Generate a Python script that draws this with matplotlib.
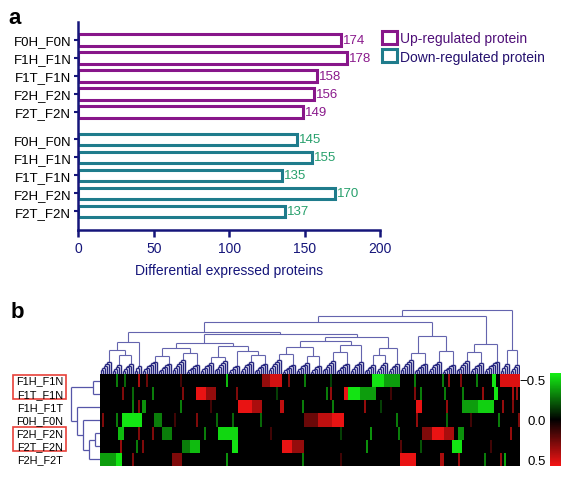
import numpy as np
import matplotlib
matplotlib.use("Agg")
import matplotlib.pyplot as plt
from matplotlib.colors import LinearSegmentedColormap, Normalize
from matplotlib.cm import ScalarMappable
from matplotlib.collections import LineCollection
from matplotlib.patches import Patch, Rectangle

plt.rcParams["font.family"] = ["Liberation Sans", "DejaVu Sans"]

# ---------------- panel a: counts of differential proteins ----------------
COMPARISONS = ["F0H_F0N", "F1H_F1N", "F1T_F1N", "F2H_F2N", "F2T_F2N"]
UP_COUNTS = [174, 178, 158, 156, 149]
DOWN_COUNTS = [145, 155, 135, 170, 137]
LEGEND_LABELS = ["Up-regulated protein", "Down-regulated protein"]

# ---------------- panel b: clustered heatmap ----------------
HEAT_ROWS = ["F1H_F1N", "F1T_F1N", "F1H_F1T", "F0H_F0N",
             "F2H_F2N", "F2T_F2N", "F2H_F2T"]
BOXED_ROW_PAIRS = [(0, 1), (4, 5)]
N_PROTEINS = 210

# (first column, stop column, log ratio); everything not listed is ~0
ROW_F1H_F1N = [(8, 9, -0.3), (12, 13, -0.25), (19, 20, 0.4), (23, 24, 0.25),
               (63, 64, -0.45), (81, 85, 0.35), (85, 91, 0.5), (94, 95, 0.3),
               (102, 103, -0.3), (136, 142, -0.55), (142, 150, -0.38),
               (157, 158, -0.3), (171, 172, -0.3), (174, 175, 0.35),
               (180, 181, 0.3), (188, 189, -0.3), (196, 198, -0.55),
               (200, 210, 0.52), (40, 41, 0.15), (115, 116, -0.15)]
ROW_F1T_F1N = [(11, 12, 0.3), (16, 17, -0.25), (26, 27, -0.3), (41, 42, 0.3),
               (48, 53, 0.55), (53, 58, 0.35), (68, 69, 0.3), (113, 114, -0.3),
               (115, 116, 0.35), (122, 124, 0.55), (124, 130, -0.55),
               (130, 138, -0.38), (157, 158, 0.3), (160, 161, -0.3),
               (172, 173, -0.3), (181, 182, -0.3), (191, 192, 0.35),
               (197, 199, -0.55), (206, 207, 0.4), (208, 209, 0.35),
               (88, 89, -0.15), (145, 146, 0.15)]
ROW_F1H_F1T = [(16, 17, -0.3), (19, 20, 0.3), (21, 23, -0.35), (40, 41, -0.3),
               (69, 76, 0.55), (76, 81, 0.4), (90, 92, 0.45), (101, 102, -0.3),
               (116, 117, -0.3), (132, 133, 0.35), (158, 161, 0.55),
               (173, 174, 0.35), (181, 189, -0.38), (189, 197, -0.5),
               (201, 202, 0.35), (206, 207, 0.3), (55, 56, 0.15), (140, 141, -0.15)]
ROW_F0H_F0N = [(1, 2, 0.3), (8, 9, -0.3), (11, 21, -0.55), (27, 31, -0.3),
               (48, 49, 0.3), (58, 59, -0.25), (66, 67, -0.25), (80, 81, -0.25),
               (102, 109, 0.25), (109, 116, 0.45), (116, 122, 0.55),
               (148, 149, -0.3), (158, 159, 0.35), (173, 174, -0.25),
               (199, 200, -0.3), (209, 210, 0.3), (37, 38, 0.15), (185, 186, 0.15)]
ROW_F2H_F2N = [(9, 12, -0.45), (19, 20, 0.3), (26, 27, 0.3), (31, 36, -0.3),
               (52, 53, -0.3), (59, 69, -0.52), (135, 136, -0.35),
               (149, 150, -0.3), (161, 166, 0.3), (166, 172, 0.55),
               (172, 177, 0.4), (179, 182, -0.35), (205, 206, 0.35),
               (85, 86, 0.15), (120, 121, -0.15)]
ROW_F2T_F2N = [(10, 11, 0.35), (18, 19, -0.3), (21, 22, 0.3), (41, 45, -0.3),
               (45, 50, -0.45), (66, 69, -0.55), (91, 96, 0.55), (96, 102, 0.35),
               (133, 134, -0.35), (176, 181, -0.55), (150, 151, 0.2),
               (160, 161, -0.2), (195, 196, 0.15)]
ROW_F2H_F2T = [(0, 8, -0.38), (8, 11, -0.55), (16, 17, 0.3), (36, 41, 0.3),
               (63, 64, -0.35), (101, 102, -0.3), (150, 158, 0.55),
               (170, 172, 0.4), (179, 180, 0.35), (192, 193, -0.3),
               (200, 201, 0.35), (202, 203, -0.4), (120, 121, 0.15)]
HEAT_BLOCKS = [ROW_F1H_F1N, ROW_F1T_F1N, ROW_F1H_F1T, ROW_F0H_F0N,
               ROW_F2H_F2N, ROW_F2T_F2N, ROW_F2H_F2T]

# row tree: (left, right, merge height), leaves are row indices
ROW_TREE = ((0, 1, 7), (2, (3, ((4, 5, 5), 6, 11), 17), 23), 29)

# column tree: proteins come in small clusters, clusters joined by COL_TREE
COL_GROUP_SIZES = [6, 5, 6, 4, 8, 7, 7, 7, 7, 7, 6, 7, 7, 7, 7, 7,
                   6, 7, 7, 7, 6, 6, 6, 7, 7, 7, 7, 7, 7, 8, 5, 5]
COL_GROUP_HEIGHTS = [12, 9, 10, 8, 12, 10, 14, 9, 11, 13, 8, 12, 10, 14, 9, 11,
                     8, 13, 10, 12, 9, 11, 10, 14, 10, 12, 9, 13, 11, 12, 10, 9]
COL_TREE = (
    (
        (
            (
                ((0, (1, 2, 19), 24), 3, 32),
                (
                    (((4, 5, 18), (6, 7, 21), 26),
                     ((8, 9, 17), (10, (11, 12, 19), 23), 28), 31),
                    ((((13, 14, 20), (15, 16, 18), 27), ((17, 18, 22), 19, 29), 33),
                     ((20, 21, 19), 22, 26), 37),
                    40),
                42),
            ((23, 24, 21), (25, 26, 23), 38),
            51),
        ((27, 28, 22), 29, 30),
        57),
    (30, 31, 24),
    63)

W, H = 575, 481
fig = plt.figure(figsize=(W / 100, H / 100), dpi=100)


def box(x0, y0, x1, y1):
    return [x0 / W, 1 - y1 / H, (x1 - x0) / W, (y1 - y0) / H]


NAVY = "#15157a"
UP_EDGE = "#88168a"
DOWN_EDGE = "#1f7c8c"
UP_TEXT = "#8a1a8c"
DOWN_TEXT = "#27a06c"

# ---- panel a ----
ax = fig.add_axes(box(78.3, 23, 380, 230.7))
step_gap = 5.52
y_up = np.arange(len(COMPARISONS))
y_down = np.arange(len(COMPARISONS)) + step_gap
ax.barh(y_up, UP_COUNTS, height=0.62, color="white", edgecolor=UP_EDGE,
        linewidth=2.2)
ax.barh(y_down, DOWN_COUNTS, height=0.62, color="white", edgecolor=DOWN_EDGE,
        linewidth=2.2)
for yy, v in zip(y_up, UP_COUNTS):
    ax.annotate(str(v), (v, yy), xytext=(1.5, 0), textcoords="offset points",
                va="center", ha="left", color=UP_TEXT, fontsize=9.5)
for yy, v in zip(y_down, DOWN_COUNTS):
    ax.annotate(str(v), (v, yy), xytext=(1.5, 0), textcoords="offset points",
                va="center", ha="left", color=DOWN_TEXT, fontsize=9.5)
ax.set_xlim(0, 200)
ax.set_ylim(y_down[-1] + 1.02, -1.0)
ax.set_yticks(list(y_up) + list(y_down))
ax.set_yticklabels(COMPARISONS + COMPARISONS, fontsize=9.5)
ax.set_xticks([0, 50, 100, 150, 200])
for s in ("top", "right"):
    ax.spines[s].set_visible(False)
for s in ("left", "bottom"):
    ax.spines[s].set_color(NAVY)
    ax.spines[s].set_linewidth(1.8)
ax.tick_params(axis="x", colors=NAVY, length=5, width=1.8, labelsize=10, pad=3)
ax.tick_params(axis="y", color=NAVY, labelcolor="black", length=3, width=1.5, pad=2)
ax.set_xlabel("Differential expressed proteins", color=NAVY, fontsize=10, labelpad=6)
handles = [Patch(facecolor="white", edgecolor=UP_EDGE, linewidth=2.2),
           Patch(facecolor="white", edgecolor=DOWN_EDGE, linewidth=2.2)]
leg = ax.legend(handles, LEGEND_LABELS, loc="upper left",
                bbox_to_anchor=(382 / W, 1 - 32 / H), bbox_transform=fig.transFigure,
                frameon=False, fontsize=10, handlelength=1.05, handleheight=1.05,
                handletextpad=0.25, labelspacing=0.3, borderpad=0, borderaxespad=0)
for t, c in zip(leg.get_texts(), ["#4f0f78", "#24106e"]):
    t.set_color(c)
fig.text(15 / W, 1 - 24 / H, "a", fontsize=16, fontweight="bold", ha="center")
fig.text(17 / W, 1 - 318 / H, "b", fontsize=16, fontweight="bold", ha="center")

# ---- panel b heatmap ----
mat = np.zeros((len(HEAT_ROWS), N_PROTEINS))
for r, blocks in enumerate(HEAT_BLOCKS):
    for c0, c1, v in blocks:
        mat[r, c0:c1] = v
cmap = LinearSegmentedColormap.from_list("gkr", ["#14f014", "#000000", "#f51414"])
norm = Normalize(-0.58, 0.58)
hax = fig.add_axes(box(100, 375, 520, 467))
hax.imshow(mat, cmap=cmap, norm=norm, aspect="auto", interpolation="nearest")
hax.set_axis_off()


def tree_segments(node, leaf_pos, segs):
    if isinstance(node, (int, np.integer)):
        return leaf_pos[node], 0.0
    left, right, h = node
    xl, hl = tree_segments(left, leaf_pos, segs)
    xr, hr = tree_segments(right, leaf_pos, segs)
    segs.append([(xl, hl), (xl, h)])
    segs.append([(xl, h), (xr, h)])
    segs.append([(xr, hr), (xr, h)])
    return (xl + xr) / 2, h


# comb-shaped little clusters for the proteins inside each group
starts = np.concatenate([[0], np.cumsum(COL_GROUP_SIZES)[:-1]])
group_nodes = []
for s0, size, top in zip(starts, COL_GROUP_SIZES, COL_GROUP_HEIGHTS):
    node = int(s0)
    for j in range(1, size):
        node = (node, int(s0 + j), top * (0.12 + 0.88 * j / (size - 1)))
    group_nodes.append(node)


def expand(node):
    if isinstance(node, int):
        return group_nodes[node]
    return (expand(node[0]), expand(node[1]), node[2])


col_segs = []
tree_segments(expand(COL_TREE), np.arange(N_PROTEINS), col_segs)
low = [s for s in col_segs if max(s[0][1], s[1][1]) <= 14.5]
high = [s for s in col_segs if max(s[0][1], s[1][1]) > 14.5]
dax = fig.add_axes(box(100, 310, 520, 375))
dax.add_collection(LineCollection(high, colors="#6464ae", linewidths=0.8))
dax.add_collection(LineCollection(low, colors="#25257f", linewidths=1.0))
dax.set_xlim(-0.5, N_PROTEINS - 0.5)
dax.set_ylim(0, 64.3)
dax.set_axis_off()

row_segs = []
tree_segments(ROW_TREE, np.arange(len(HEAT_ROWS)), row_segs)
rax = fig.add_axes(box(65, 375, 100, 467))
rax.add_collection(LineCollection([[(h, p) for p, h in seg] for seg in row_segs],
                                  colors="#5656a8", linewidths=0.9))
rax.set_xlim(35, 0)
rax.set_ylim(len(HEAT_ROWS) - 0.5, -0.5)
rax.set_axis_off()

row_h = 92 / len(HEAT_ROWS)
for i, name in enumerate(HEAT_ROWS):
    fig.text(63 / W, 1 - (375 + row_h * (i + 0.5)) / H, name, fontsize=7.8,
             ha="right", va="center")
for r0, r1 in BOXED_ROW_PAIRS:
    y0 = 375 + row_h * r0 + 0.5
    y1 = 375 + row_h * (r1 + 1) - 1.5
    fig.add_artist(Rectangle((13 / W, 1 - y1 / H), 53 / W, (y1 - y0) / H,
                             transform=fig.transFigure, fill=False,
                             edgecolor="#e8413a", linewidth=1.2))

cax = fig.add_axes(box(550, 374, 561, 467))
cb = fig.colorbar(ScalarMappable(norm=norm, cmap=cmap), cax=cax, ticks=[-0.5, 0, 0.5])
cb.outline.set_visible(False)
cax.invert_yaxis()
cax.yaxis.set_ticks_position("left")
cax.set_yticklabels(["\u22120.5", "0.0", "0.5"])
cax.tick_params(length=0, labelsize=9.5, pad=3)

fig.savefig("out.png", dpi=100)
